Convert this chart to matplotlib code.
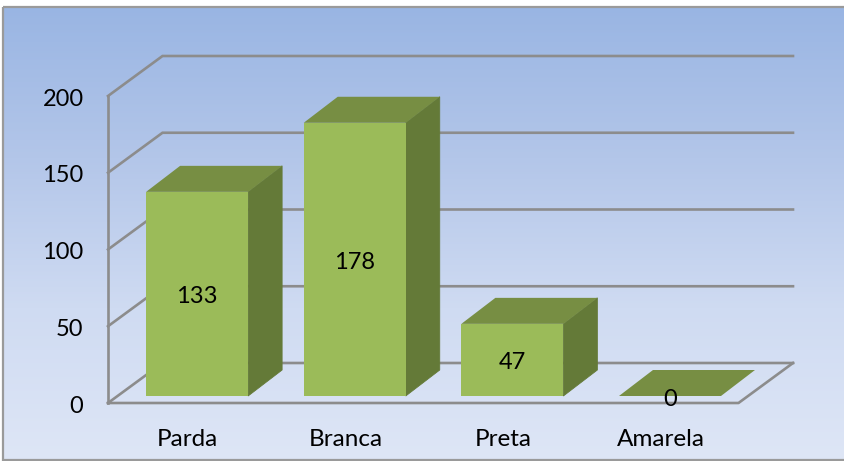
import numpy as np
import matplotlib
matplotlib.use('Agg')
import matplotlib.pyplot as plt
from matplotlib.patches import Polygon, Rectangle
from matplotlib.colors import LinearSegmentedColormap

# Chart data
categories = ['Parda', 'Branca', 'Preta', 'Amarela']
values = [133, 178, 47, 0]
y_ticks = [0, 50, 100, 150, 200]

W, H = 844, 461
plt.rcParams['font.family'] = ['Lato', 'DejaVu Sans']

fig = plt.figure(figsize=(W / 100, H / 100), dpi=100, facecolor='white')

# Background gradient and outer frame, in pixel units
bg = fig.add_axes([0, 0, 1, 1])
bg.set_xlim(0, W)
bg.set_ylim(H, 0)
bg.axis('off')
cmap = LinearSegmentedColormap.from_list('bg', ['#99B5E3', '#B3C6E9', '#CFDBF2', '#DEE6F6'])
im = bg.imshow(np.linspace(0, 1, 256).reshape(-1, 1), cmap=cmap, aspect='auto',
               extent=(3, W, 460, 7), zorder=0)
bg.set_xlim(0, W)
bg.set_ylim(H, 0)
bg.add_patch(Rectangle((3, 7), W + 5, 453, fill=False, edgecolor='#9A9A9A', linewidth=1.6, zorder=1))

# Main axes: categories on x, values on y
left, right, bottom, top = 108, 738.5, 403, 96
ax = fig.add_axes([left / W, 1 - bottom / H, (right - left) / W, (bottom - top) / H])
ax.patch.set_alpha(0)
ax.set_xlim(-0.5, 3.5)
ax.set_ylim(0, 200)
ax.axis('off')

px_x = (right - left) / 4  # pixels per category
px_y = (bottom - top) / 200  # pixels per unit

# Wall and floor depth
wall_dx = 54.5 / px_x
wall_dy = 40 / px_y
grid_color = '#8C8C8C'
for t in y_ticks:
    ax.plot([-0.5, -0.5 + wall_dx, 3.5 + wall_dx], [t, t + wall_dy, t + wall_dy],
            color=grid_color, lw=1.9, clip_on=False, zorder=1, solid_joinstyle='miter')
ax.plot([-0.5, -0.5], [0, 200], color=grid_color, lw=1.9, clip_on=False, zorder=1)
ax.plot([-0.5, 3.5, 3.5 + wall_dx], [0, 0, wall_dy], color=grid_color, lw=1.9, clip_on=False, zorder=1)

# Bars with their top and side faces
bar_w = 102 / px_x
bar_dx = 34 / px_x
bar_dy = 26 / px_y
base = 7 / px_y
shift = 10.3 / px_x
front, top_c, side = '#9BBB59', '#778E43', '#647A38'
for i, v in enumerate(values):
    x0 = i + shift - bar_w / 2
    x1 = x0 + bar_w
    y0 = base
    y1 = base + v
    if v > 0:
        ax.add_patch(Polygon([(x1, y0), (x1 + bar_dx, y0 + bar_dy), (x1 + bar_dx, y1 + bar_dy), (x1, y1)],
                             facecolor=side, edgecolor=side, linewidth=0.6, clip_on=False, zorder=3))
        ax.add_patch(Rectangle((x0, y0), bar_w, v, facecolor=front, edgecolor='none', clip_on=False, zorder=3))
    ax.add_patch(Polygon([(x0, y1), (x1, y1), (x1 + bar_dx, y1 + bar_dy), (x0 + bar_dx, y1 + bar_dy)],
                         facecolor=top_c, edgecolor='none', clip_on=False, zorder=3))
    # Value label in the middle of the front face
    ax.text(i + shift, base + v / 2 - 3 / px_y, str(v), ha='center', va='center', fontsize=17, color='black',
            zorder=4, clip_on=False)

# Tick labels
for t in y_ticks:
    ax.text(-0.5 - 24.5 / px_x, t - 3 / px_y, str(t), ha='right', va='center', fontsize=17, color='black', clip_on=False)
for i, c in enumerate(categories):
    ax.text(i + 1 / px_x, -36.5 / px_y, c, ha='center', va='center', fontsize=17.5, color='black', clip_on=False)

fig.savefig('out.png', dpi=100)
